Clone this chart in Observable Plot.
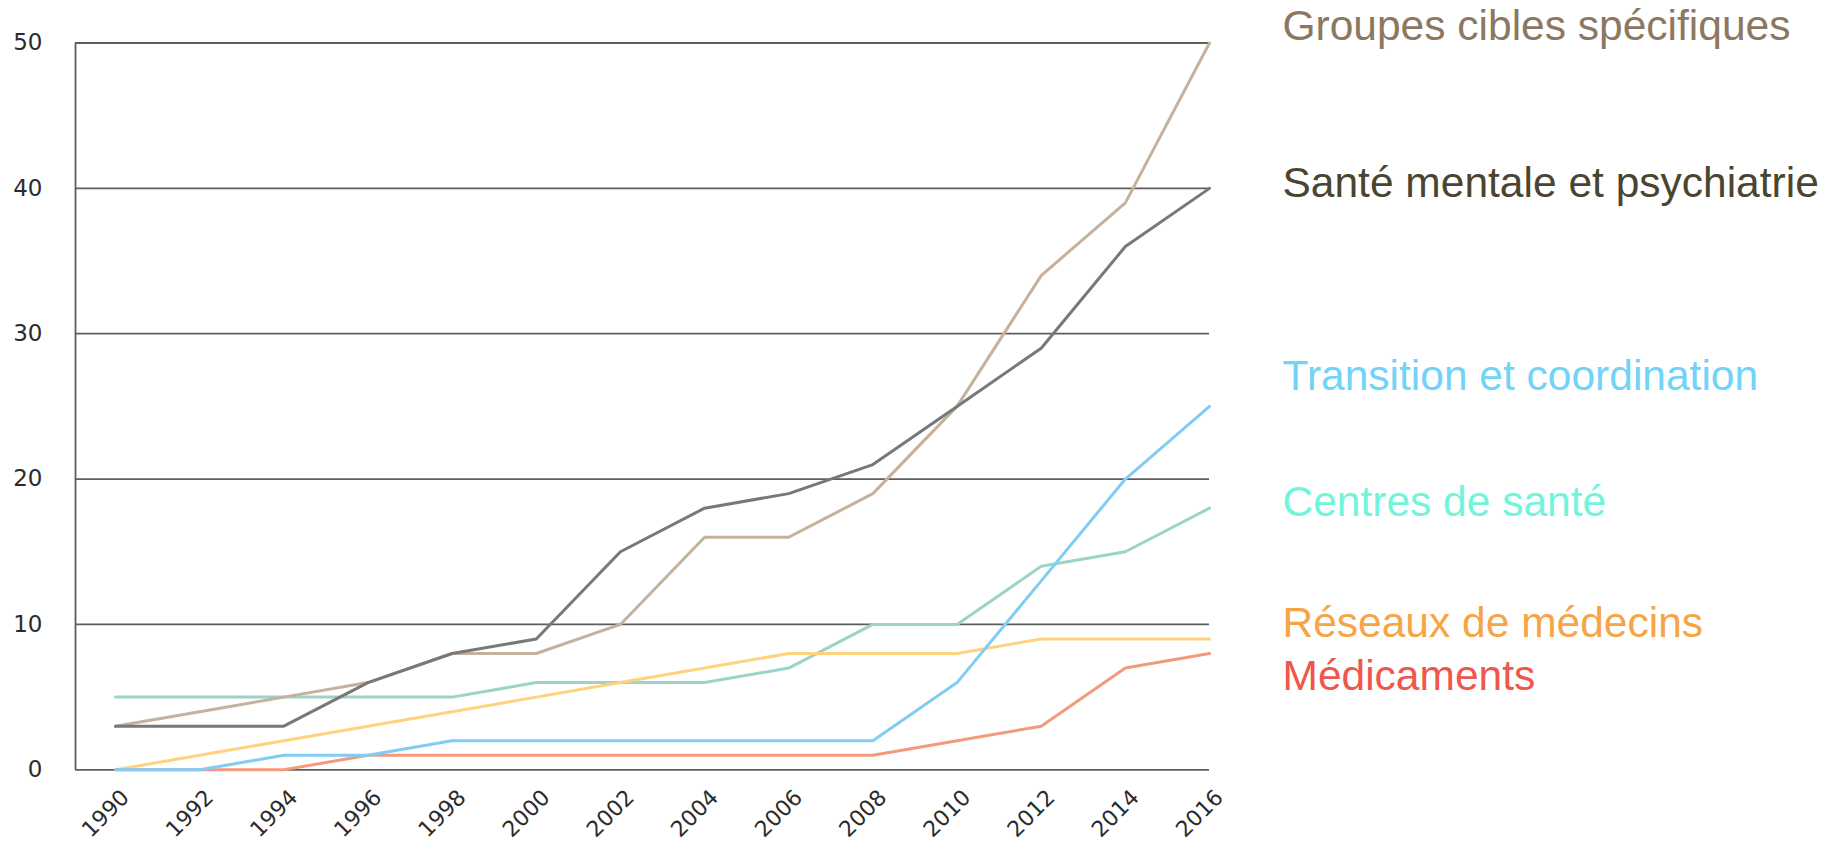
<!DOCTYPE html>
<html>
<head>
<meta charset="utf-8">
<script src="https://cdn.jsdelivr.net/npm/d3@7"></script>
<script src="https://cdn.jsdelivr.net/npm/@observablehq/plot@0.6"></script>
<style>
  html, body { margin: 0; padding: 0; background: #ffffff; }
  #chart svg { display: block; }
</style>
</head>
<body>
<div id="chart"></div>
<script>
// ---- data ----
const years = [1990, 1992, 1994, 1996, 1998, 2000, 2002, 2004, 2006, 2008, 2010, 2012, 2014, 2016];

const groupesCibles   = [3, 4, 5, 6, 8, 8, 10, 16, 16, 19, 25, 34, 39, 50];
const santeMentale    = [3, 3, 3, 6, 8, 9, 15, 18, 19, 21, 25, 29, 36, 40];
const transition      = [0, 0, 1, 1, 2, 2, 2, 2, 2, 2, 6, 13, 20, 25];
const centresSante    = [5, 5, 5, 5, 5, 6, 6, 6, 7, 10, 10, 14, 15, 18];
const reseauxMedecins = [0, 1, 2, 3, 4, 5, 6, 7, 8, 8, 8, 9, 9, 9];
const medicaments     = [0, 0, 0, 1, 1, 1, 1, 1, 1, 1, 2, 3, 7, 8];

const seriesNames = [
  "Centres de santé",
  "Réseaux de médecins",
  "Médicaments",
  "Transition et coordination",
  "Groupes cibles spécifiques",
  "Santé mentale et psychiatrie"
];
const seriesValues = [centresSante, reseauxMedecins, medicaments, transition, groupesCibles, santeMentale];

const yTicks = [0, 10, 20, 30, 40, 50];
const xTicks = years;

// ---- styles (not data) ----
const lineColor = {
  "Groupes cibles spécifiques": "#c5b19d",
  "Santé mentale et psychiatrie": "#787878",
  "Transition et coordination": "#80cdf4",
  "Centres de santé": "#9bd4c7",
  "Réseaux de médecins": "#ffd27d",
  "Médicaments": "#f39a7d"
};
const labelColor = {
  "Groupes cibles spécifiques": "#8c7760",
  "Santé mentale et psychiatrie": "#4a4530",
  "Transition et coordination": "#70d3f7",
  "Centres de santé": "#72f4dc",
  "Réseaux de médecins": "#f7a446",
  "Médicaments": "#f0564b"
};
const labelDy = {
  "Groupes cibles spécifiques": -17,
  "Santé mentale et psychiatrie": -5,
  "Transition et coordination": -30,
  "Centres de santé": -6,
  "Réseaux de médecins": -16,
  "Médicaments": 23
};

// build long table
const rows = [];
seriesNames.forEach((name, i) => {
  years.forEach((yr, j) => rows.push({series: name, year: yr, value: seriesValues[i][j]}));
});
const lastRows = seriesNames.map((name, i) => ({series: name, year: years[years.length - 1], value: seriesValues[i][years.length - 1]}));

const font = "'Liberation Sans', Arial, Helvetica, sans-serif";
const tickFont = "'DejaVu Sans', Verdana, sans-serif";

const marks = [
  Plot.ruleY(yTicks, {stroke: "#5e5e5e", strokeWidth: 1.8}),
  Plot.ruleX([years[0]], {y1: 0, y2: 50, dx: -40, stroke: "#5e5e5e", strokeWidth: 1.8}),
  Plot.axisY(yTicks, {tickSize: 0, tickPadding: 33, fontSize: 23, fontFamily: tickFont, fill: "#2b2b2b", label: null}),
  Plot.axisX(xTicks, {tickSize: 0, tickRotate: -45, tickPadding: 24, dx: 10, fontSize: 22, fontFamily: tickFont, fill: "#2b2b2b", label: null, tickFormat: d => String(d)})
];
seriesNames.forEach(name => {
  marks.push(Plot.line(rows.filter(r => r.series === name), {
    x: "year", y: "value", stroke: lineColor[name], strokeWidth: 3, strokeLinejoin: "miter"
  }));
});
seriesNames.forEach(name => {
  marks.push(Plot.text(lastRows.filter(r => r.series === name), {
    x: "year", y: "value", text: "series", textAnchor: "start",
    dx: 73, dy: labelDy[name], fontSize: 42.5, fill: labelColor[name], fontFamily: font
  }));
});

const chart = Plot.plot({
  width: 1831,
  height: 844,
  marginLeft: 75,
  marginRight: 622,
  marginTop: 42.5,
  marginBottom: 74.7,
  style: {fontFamily: font, background: "#ffffff", overflow: "visible"},
  x: {domain: [1990, 2016], insetLeft: 40, label: null},
  y: {domain: [0, 50], label: null},
  marks
});
document.getElementById("chart").appendChild(chart);
</script>
</body>
</html>
